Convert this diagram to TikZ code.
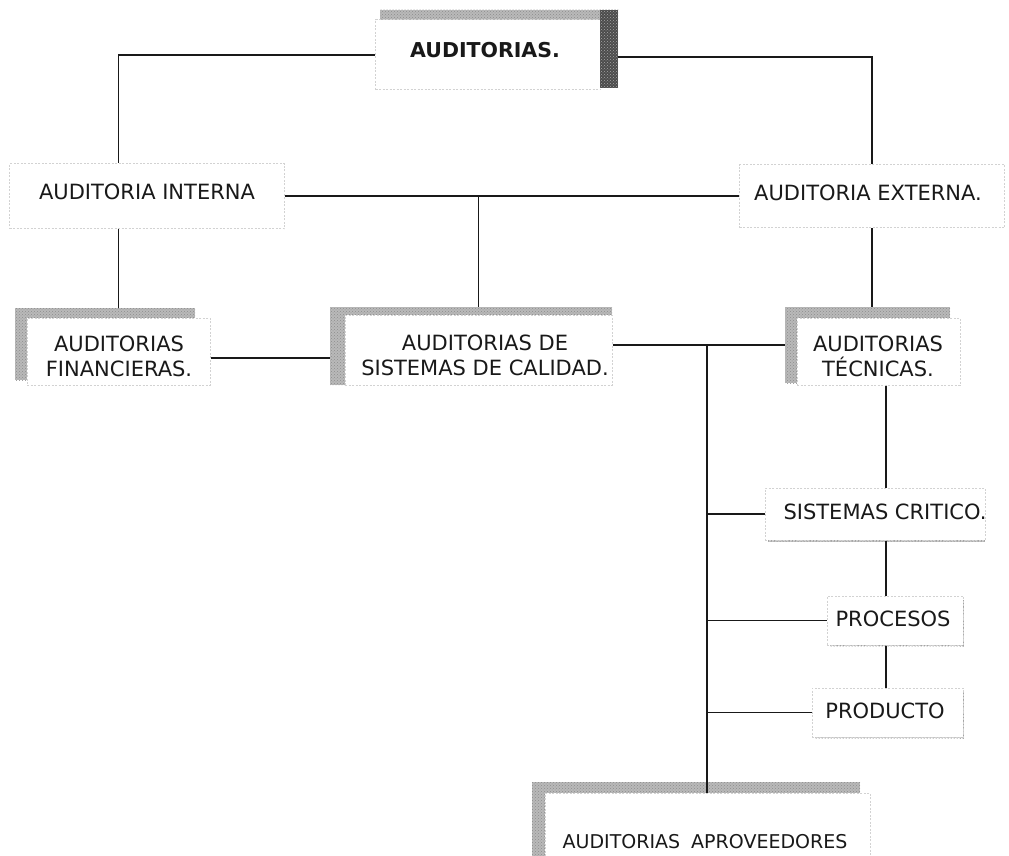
\documentclass[tikz,border=0pt]{standalone}
\usepackage{fontspec}
\setmainfont{DejaVu Sans}
\usetikzlibrary{patterns}

\tikzset{
  conn/.style={line width=1.6pt, black!90},
  frame/.style={draw=gray!35, dash pattern=on 2pt off 1.5pt, line width=1pt, fill=white, inner sep=0pt},
  lbl/.style={font=\fontsize{21}{25}\selectfont, align=center, text=black!90, inner sep=0pt},
  ttl/.style={font=\fontsize{20.5}{24}\selectfont\bfseries, text=black!90, inner sep=0pt},
  band/.style={fill=gray!55, postaction={pattern=crosshatch dots, pattern color=gray!90}},
  darkband/.style={fill=black!70, postaction={pattern=crosshatch dots, pattern color=black!35}},
  edgeband/.style={fill=gray!45, postaction={pattern=dots, pattern color=black!80}}
}

\begin{document}
\begin{tikzpicture}[x=1pt, y=-1pt]
\useasboundingbox (0,0) rectangle (1009,856);
\clip (0,0) rectangle (1009,856);

% ---- top heading box with a raised edge
\fill[band] (380,10) rectangle (618,24);
\node[frame, minimum width=225, minimum height=70] (top) at (488,55) {};
\node[ttl] (topT) at (485,50) {AUDITORIAS.};
\fill[darkband] (600,10) rectangle (618,88);
\coordinate (topR) at (618,57);

% ---- second level
\node[frame, minimum width=275, minimum height=65] (interna) at (147,196) {};
\node[lbl] (internaT) at (147,192) {AUDITORIA INTERNA};
\node[frame, minimum width=265, minimum height=63] (externa) at (872,196) {};
\node[lbl] (externaT) at (868,193) {AUDITORIA EXTERNA.};

% ---- third level, boxes with a textured top and left edge
\fill[band] (15,308) rectangle (195,318);
\fill[band] (15,308) rectangle (27,380);
\node[frame, minimum width=183, minimum height=67] (financ) at (118.5,351.5) {};
\node[lbl] (financT) at (119,356) {AUDITORIAS\\FINANCIERAS.};

\fill[band] (330,307) rectangle (612,315);
\fill[band] (330,307) rectangle (345,385);
\node[frame, minimum width=267, minimum height=70] (calidad) at (478.5,350) {};
\node[lbl] (calidadT) at (485,355) {AUDITORIAS DE\\SISTEMAS DE CALIDAD.};

\fill[band] (785,307) rectangle (950,318);
\fill[band] (785,307) rectangle (797,383);
\node[frame, minimum width=163, minimum height=67] (tecnicas) at (878.5,351.5) {};
\node[lbl] (tecnicasT) at (878,356) {AUDITORIAS\\TÉCNICAS.};

% ---- technical sub-audits
\fill[edgeband] (768,538) rectangle (985,542);
\node[frame, minimum width=220, minimum height=52] (sistemas) at (875,514) {};
\node[lbl] (sistemasT) at (885,512) {SISTEMAS CRITICO.};

\fill[edgeband] (960,600) rectangle (964,646);
\fill[edgeband] (830,642) rectangle (964,646);
\node[frame, minimum width=136, minimum height=49] (procesos) at (895,620.5) {};
\node[lbl] (procesosT) at (893,619) {PROCESOS};

\fill[edgeband] (960,692) rectangle (964,738);
\fill[edgeband] (815,734) rectangle (964,738);
\node[frame, minimum width=151, minimum height=49] (producto) at (887.5,712.5) {};
\node[lbl] (productoT) at (885,711) {PRODUCTO};

% ---- supplier audits
\fill[band] (532,782) rectangle (860,793);
\fill[band] (532,782) rectangle (545,860);
\node[frame, minimum width=325, minimum height=87] (aprov) at (707.5,836.5) {};
\node[lbl, font=\fontsize{19}{23}\selectfont] (aprovT) at (705,842) {AUDITORIAS\hspace{11pt}APROVEEDORES};

% ---- connectors
\coordinate (calL) at (330,358);
\coordinate (tecL) at (785,345);
\coordinate (trunk) at (707,345);
\coordinate (spine) at (886,400);

\draw[conn] (top.west) -| (financ.north |- interna.north);
\draw[conn] (topR) -| (externa.north);
\draw[conn] (interna.east) -- (externa.west);
\draw[conn] (calidad.north |- interna.east) -- (calidad.north |- 0,307);
\draw[conn] (financ.north |- interna.south) -- (financ.north |- 0,308);
\draw[conn] (externa.south) -- (externa.south |- 0,307);
\draw[conn] (calL -| financ.east) -- (calL);
\draw[conn] (calidad.east |- tecL) -- (tecL);
\draw[conn] (trunk) -- (trunk |- aprov.north);
\draw[conn] (spine |- tecnicas.south) -- (spine |- sistemas.north);
\draw[conn] (spine |- sistemas.south) -- (spine |- procesos.north);
\draw[conn] (spine |- procesos.south) -- (spine |- producto.north);
\draw[conn] (trunk |- sistemas.west) -- (sistemas.west);
\draw[conn] (trunk |- procesos.west) -- (procesos.west);
\draw[conn] (trunk |- producto.west) -- (producto.west);
\end{tikzpicture}
\end{document}
